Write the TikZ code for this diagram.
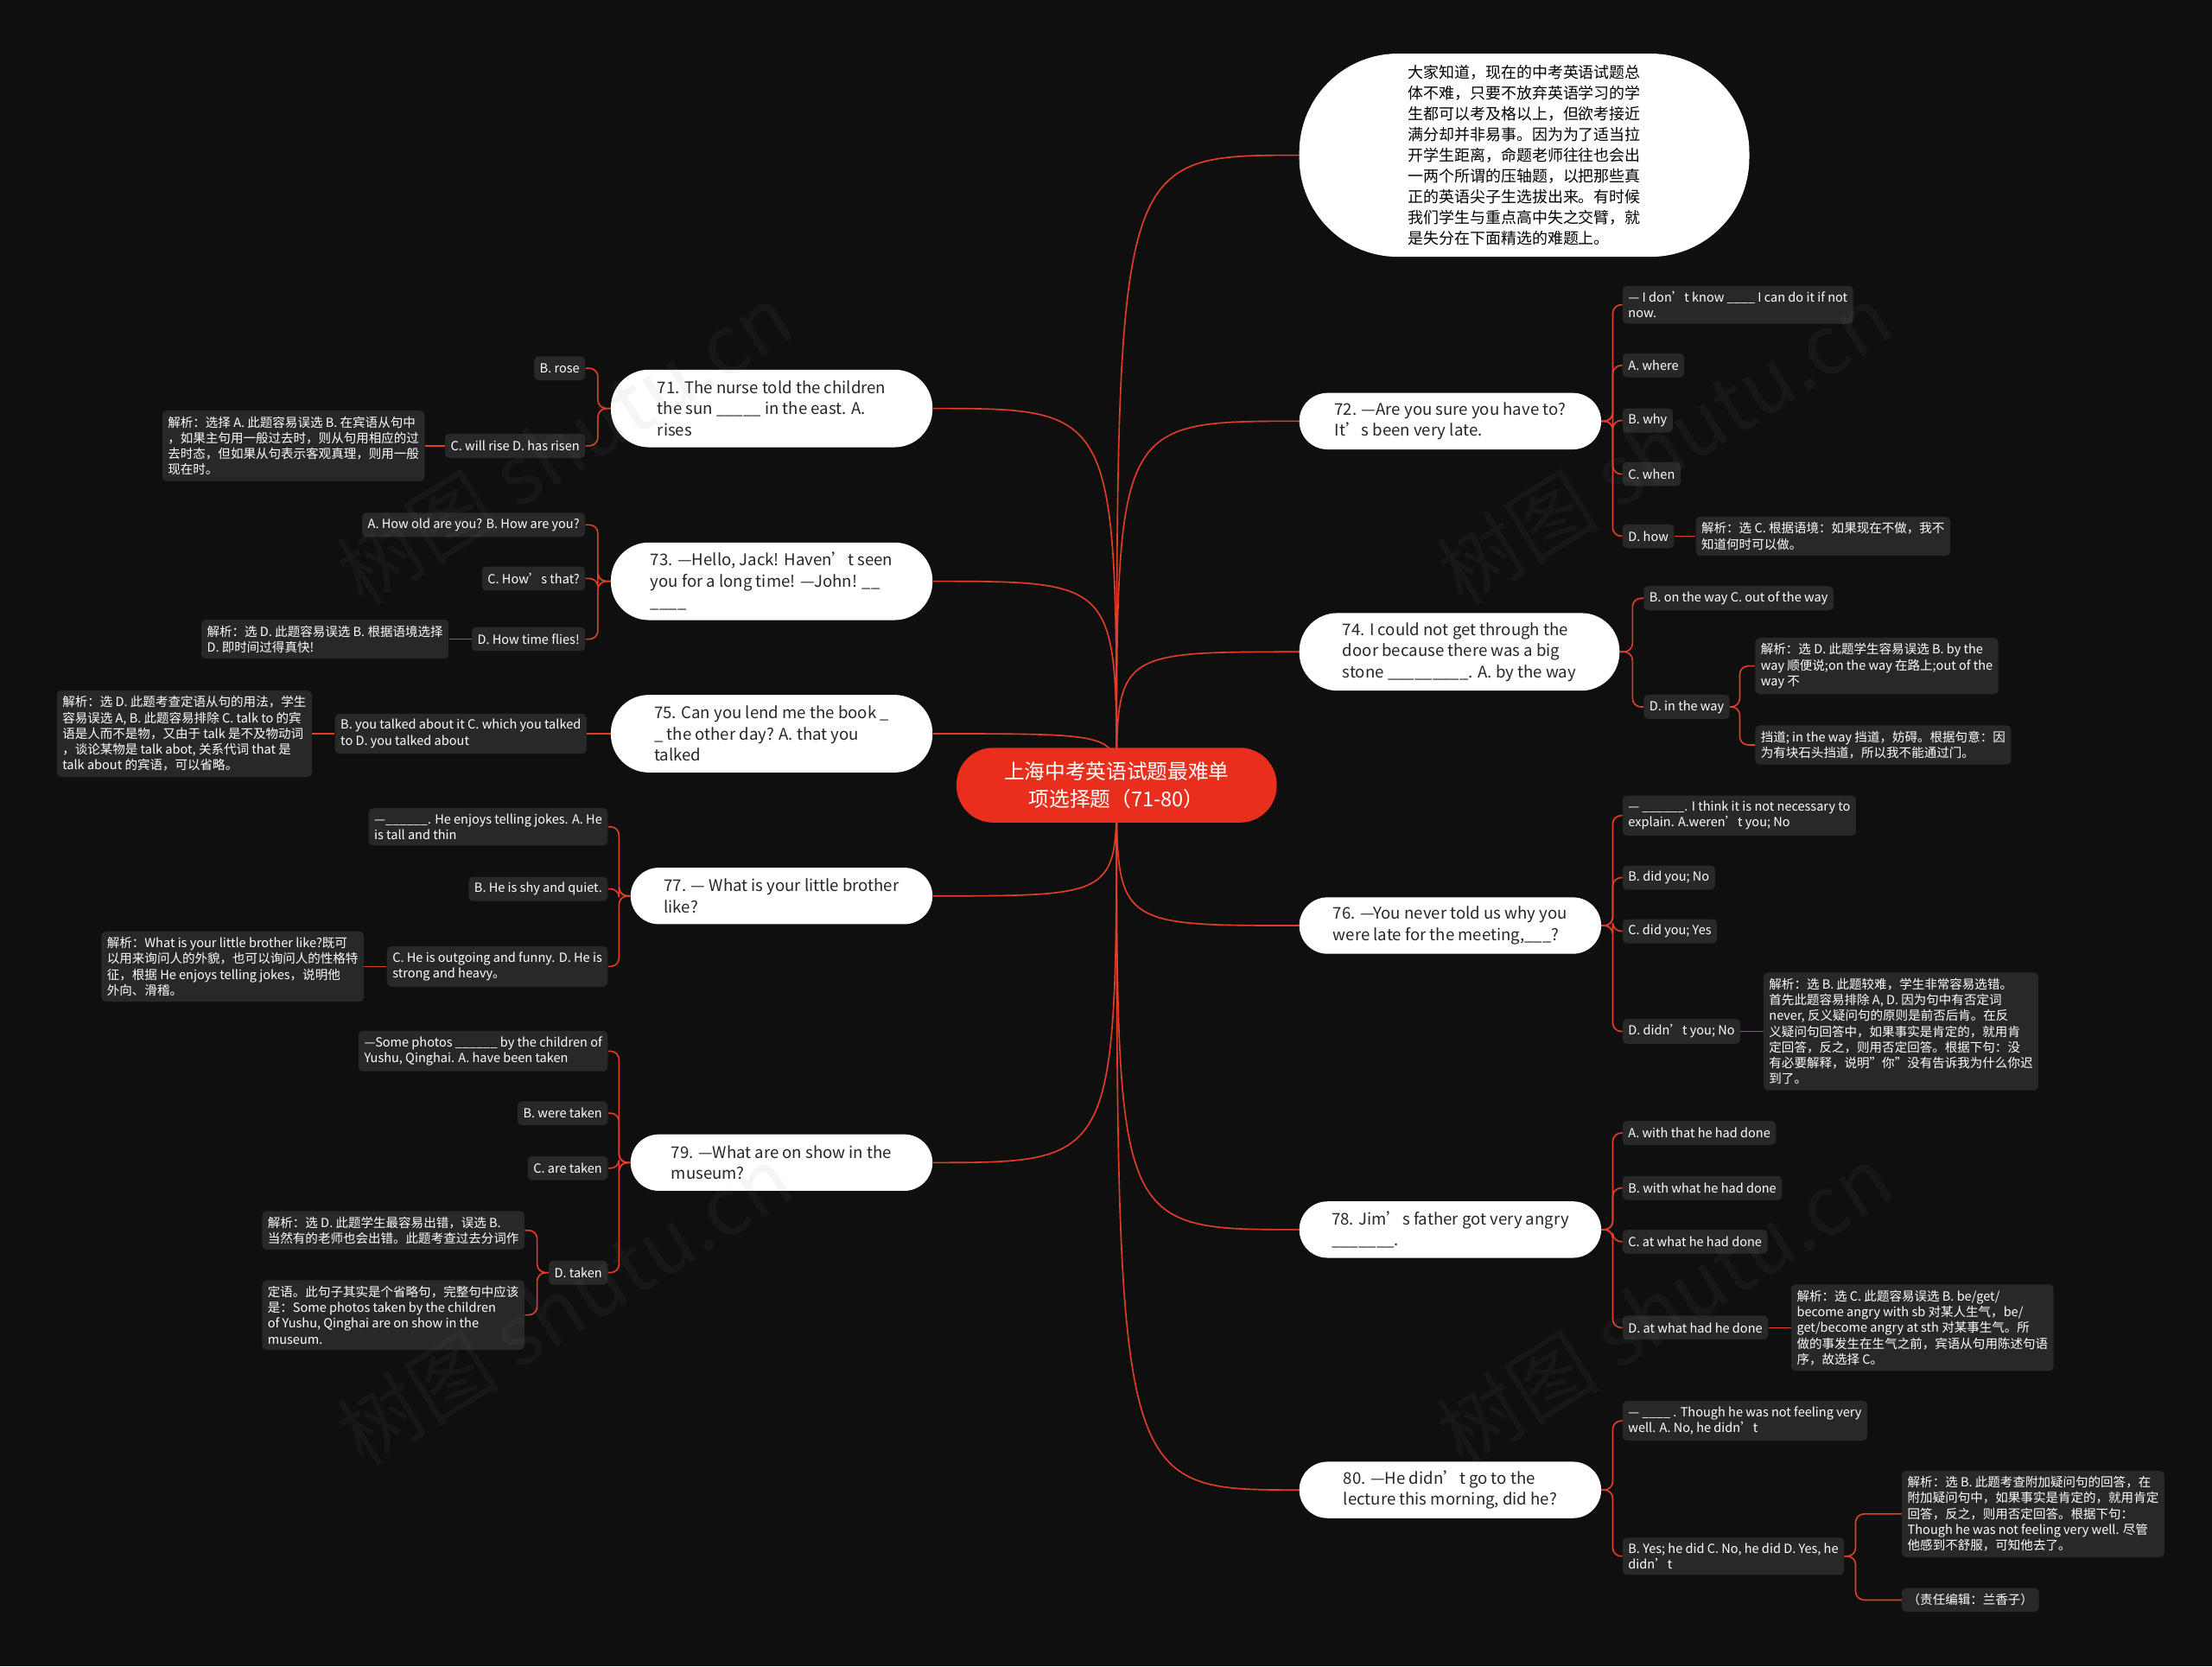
\documentclass[tikz,border=0pt]{standalone}
\usepackage{fontspec}
\setmainfont{Noto Sans CJK SC}
\usetikzlibrary{positioning}

\definecolor{bgc}{RGB}{15,15,15}
\definecolor{leafc}{RGB}{40,40,40}
\definecolor{rootc}{RGB}{232,46,28}
\definecolor{linec}{RGB}{226,62,42}

\pgfdeclarelayer{bg}
\pgfdeclarelayer{edges}
\pgfsetlayers{bg,edges,main}

\begin{document}
\begin{tikzpicture}[
    x=1pt, y=-1pt,
    root/.style={fill=rootc, text=white, rounded corners=26pt, minimum width=227pt, minimum height=53pt, align=center, font=\fontsize{14.5}{20}\selectfont},
    intro/.style={fill=white, text=black, rounded corners=70pt, minimum width=319pt, minimum height=144pt, align=left, font=\fontsize{11}{14.7}\selectfont},
    ques/.style={fill=white, text=black!85, rounded corners=20pt, minimum width=214pt, minimum height=40pt, align=left, font=\fontsize{11.4}{15}\selectfont},
    ques3/.style={rounded corners=27pt, minimum width=228pt, minimum height=55pt},
    leaf/.style={fill=leafc, text=white, rounded corners=3pt, minimum height=17pt, inner xsep=4pt, inner ysep=4pt, align=left, font=\fontsize{8.9}{11.2}\selectfont},
    link/.style={draw=linec, line width=1pt},
    branch/.style={link, rounded corners=6pt},
    wm/.style={text=gray, opacity=0.08, font=\fontsize{58}{58}\selectfont}
]

\useasboundingbox (0,0) rectangle (1568,1181);
\begin{pgfonlayer}{bg}
\fill[bgc] (0,0) rectangle (1568,1181);
\end{pgfonlayer}

% Root
\node[root] (root) at (791.5,556.5) {上海中考英语试题最难单\\项选择题（71-80）};

% Intro bubble
\node[intro] (intro) at (1080.5,110) {大家知道，现在的中考英语试题总\\体不难，只要不放弃英语学习的学\\生都可以考及格以上，但欲考接近\\满分却并非易事。因为为了适当拉\\开学生距离，命题老师往往也会出\\一两个所谓的压轴题，以把那些真\\正的英语尖子生选拔出来。有时候\\我们学生与重点高中失之交臂，就\\是失分在下面精选的难题上。};

% Questions, left side
\node[ques, ques3] (q71) at (547,289.5) {71. The nurse told the children\\the sun \_\_\_\_\_ in the east. A.\\rises};
\node[ques, ques3] (q73) at (547,412) {73. —Hello, Jack! Haven’t seen\\ you for a long time! —John! \_\_\\\_\_\_\_};
\node[ques, ques3] (q75) at (547,520) {75. Can you lend me the book \_\\\_ the other day? A. that you\\talked};
\node[ques] (q77) at (554,635) {77. — What is your little brother\\ like?};
\node[ques] (q79) at (554,824) {79. —What are on show in the\\museum?};

% Questions, right side
\node[ques] (q72) at (1028,298.5) {72. —Are you sure you have to?\\ It’s been very late.};
\node[ques, ques3, minimum width=227pt] (q74) at (1034.5,462) {74. I could not get through the\\door because there was a big\\stone \_\_\_\_\_\_\_\_\_. A. by the way};
\node[ques] (q76) at (1028,656) {76. —You never told us why you\\were late for the meeting,\_\_\_?};
\node[ques] (q78) at (1028,871.5) {78. Jim’s father got very angry\\\_\_\_\_\_\_\_.};
\node[ques] (q80) at (1028,1056) {80. —He didn’t go to the\\lecture this morning, did he?};

% 71
\node[leaf, anchor=east] (l71a) at (415,261) {B. rose};
\node[leaf, anchor=east] (l71b) at (415,316) {C. will rise D. has risen};
\node[leaf, left=14pt of l71b] (n71) {解析：选择 A. 此题容易误选 B. 在宾语从句中\\，如果主句用一般过去时，则从句用相应的过\\去时态，但如果从句表示客观真理，则用一般\\现在时。};

% 73
\node[leaf, anchor=east] (l73a) at (415,372) {A. How old are you? B. How are you?};
\node[leaf, anchor=east] (l73b) at (415,410) {C. How’s that?};
\node[leaf, anchor=east] (l73c) at (415,453) {D. How time flies!};
\node[leaf, left=16pt of l73c] (n73) {解析：选 D. 此题容易误选 B. 根据语境选择\\D. 即时间过得真快!};

% 75
\node[leaf, anchor=east] (l75a) at (416,520) {B. you talked about it C. which you talked\\ to D. you talked about};
\node[leaf, left=16pt of l75a] (n75) {解析：选 D. 此题考查定语从句的用法，学生\\容易误选 A, B. 此题容易排除 C. talk to 的宾\\语是人而不是物，又由于 talk 是不及物动词\\，谈论某物是 talk abot, 关系代词 that 是\\talk about 的宾语，可以省略。};

% 77
\node[leaf, anchor=east] (l77a) at (431,586) {—\_\_\_\_\_\_. He enjoys telling jokes. A. He\\is tall and thin};
\node[leaf, anchor=east] (l77b) at (431,630) {B. He is shy and quiet.};
\node[leaf, anchor=east] (l77c) at (431,685) {C. He is outgoing and funny. D. He is\\strong and heavy。};
\node[leaf, left=16pt of l77c] (n77) {解析：What is your little brother like?既可\\以用来询问人的外貌，也可以询问人的性格特\\征，根据 He enjoys telling jokes，说明他\\外向、滑稽。};

% 79
\node[leaf, anchor=east] (l79a) at (431,745) {—Some photos \_\_\_\_\_\_ by the children of\\Yushu, Qinghai. A. have been taken};
\node[leaf, anchor=east] (l79b) at (431,789) {B. were taken};
\node[leaf, anchor=east] (l79c) at (431,828) {C. are taken};
\node[leaf, anchor=east] (l79d) at (431,902) {D. taken};
\node[leaf, anchor=east] (n79a) at (372,872) {解析：选 D. 此题学生最容易出错，误选 B.\\当然有的老师也会出错。此题考查过去分词作};
\node[leaf, anchor=east] (n79b) at (372,932) {定语。此句子其实是个省略句，完整句中应该\\是：Some photos taken by the children\\of Yushu, Qinghai are on show in the\\museum.};

% 72
\node[leaf, anchor=west] (r72a) at (1150,216) {— I don’t know \_\_\_\_ I can do it if not\\now.};
\node[leaf, anchor=west] (r72b) at (1150,259) {A. where};
\node[leaf, anchor=west] (r72c) at (1150,298) {B. why};
\node[leaf, anchor=west] (r72d) at (1150,336) {C. when};
\node[leaf, anchor=west] (r72e) at (1150,380) {D. how};
\node[leaf, right=15pt of r72e] (n72) {解析：选 C. 根据语境：如果现在不做，我不\\知道何时可以做。};

% 74
\node[leaf, anchor=west] (r74a) at (1165,424) {B. on the way C. out of the way};
\node[leaf, anchor=west] (r74b) at (1165,501) {D. in the way};
\node[leaf, anchor=west] (n74a) at (1244,472) {解析：选 D. 此题学生容易误选 B. by the\\way 顺便说;on the way 在路上;out of the\\way 不};
\node[leaf, anchor=west] (n74b) at (1244,528) {挡道; in the way 挡道，妨碍。根据句意：因\\为有块石头挡道，所以我不能通过门。};

% 76
\node[leaf, anchor=west] (r76a) at (1150,578) {— \_\_\_\_\_\_. I think it is not necessary to\\explain. A.weren’t you; No};
\node[leaf, anchor=west] (r76b) at (1150,622) {B. did you; No};
\node[leaf, anchor=west] (r76c) at (1150,660) {C. did you; Yes};
\node[leaf, anchor=west] (r76d) at (1150,731) {D. didn’t you; No};
\node[leaf, right=16pt of r76d] (n76) {解析：选 B. 此题较难，学生非常容易选错。\\首先此题容易排除 A, D. 因为句中有否定词\\never, 反义疑问句的原则是前否后肯。在反\\义疑问句回答中，如果事实是肯定的，就用肯\\定回答，反之，则用否定回答。根据下句：没\\有必要解释，说明"你"没有告诉我为什么你迟\\到了。};

% 78
\node[leaf, anchor=west] (r78a) at (1150,803) {A. with that he had done};
\node[leaf, anchor=west] (r78b) at (1150,842) {B. with what he had done};
\node[leaf, anchor=west] (r78c) at (1150,880) {C. at what he had done};
\node[leaf, anchor=west] (r78d) at (1150,941) {D. at what had he done};
\node[leaf, right=16pt of r78d] (n78) {解析：选 C. 此题容易误选 B. be/get/\\become angry with sb 对某人生气，be/\\get/become angry at sth 对某事生气。所\\做的事发生在生气之前，宾语从句用陈述句语\\序，故选择 C。};

% 80
\node[leaf, anchor=west] (r80a) at (1150,1007) {— \_\_\_\_ . Though he was not feeling very\\well. A. No, he didn’t};
\node[leaf, anchor=west] (r80b) at (1150,1103) {B. Yes; he did C. No, he did D. Yes, he\\didn’t};
\node[leaf, anchor=west] (n80a) at (1348,1073) {解析：选 B. 此题考查附加疑问句的回答，在\\附加疑问句中，如果事实是肯定的，就用肯定\\回答，反之，则用否定回答。根据下句：\\Though he was not feeling very well. 尽管\\他感到不舒服，可知他去了。};
\node[leaf, anchor=west] (n80b) at (1348,1134) {（责任编辑：兰香子）};

\begin{pgfonlayer}{edges}
% Root to questions
\draw[link] (root.center) .. controls (root.center |- intro.west) .. (intro.west);
\foreach \q in {q71,q73,q75,q77,q79}
    \draw[link] (root.center) .. controls (root.center |- \q.east) .. (\q.east);
\foreach \q in {q72,q74,q76,q78,q80}
    \draw[link] (root.center) .. controls (root.center |- \q.west) .. (\q.west);

% Question to options
\foreach \l in {l71a,l71b}
    \draw[branch] (q71.west) -- ++(-9,0) |- (\l.east);
\foreach \l in {l73a,l73b,l73c}
    \draw[branch] (q73.west) -- ++(-9,0) |- (\l.east);
\draw[link] (q75.west) -- (l75a.east);
\foreach \l in {l77a,l77b,l77c}
    \draw[branch] (q77.west) -- ++(-8,0) |- (\l.east);
\foreach \l in {l79a,l79b,l79c,l79d}
    \draw[branch] (q79.west) -- ++(-8,0) |- (\l.east);
\foreach \l in {r72a,r72b,r72c,r72d,r72e}
    \draw[branch] (q72.east) -- ++(8,0) |- (\l.west);
\foreach \l in {r74a,r74b}
    \draw[branch] (q74.east) -- ++(9,0) |- (\l.west);
\foreach \l in {r76a,r76b,r76c,r76d}
    \draw[branch] (q76.east) -- ++(8,0) |- (\l.west);
\foreach \l in {r78a,r78b,r78c,r78d}
    \draw[branch] (q78.east) -- ++(8,0) |- (\l.west);
\foreach \l in {r80a,r80b}
    \draw[branch] (q80.east) -- ++(8,0) |- (\l.west);

% Options to notes
\draw[link] (l71b.west) -- (n71.east);
\draw[link] (l73c.west) -- (n73.east);
\draw[link] (l75a.west) -- (n75.east);
\draw[link] (l77c.west) -- (n77.east);
\foreach \n in {n79a,n79b}
    \draw[branch] (l79d.west) -- ++(-8,0) |- (\n.east);
\draw[link] (r72e.east) -- (n72.west);
\foreach \n in {n74a,n74b}
    \draw[branch] (r74b.east) -- ++(7,0) |- (\n.west);
\draw[link] (r76d.east) -- (n76.west);
\draw[link] (r78d.east) -- (n78.west);
\foreach \n in {n80a,n80b}
    \draw[branch] (r80b.east) -- ++(8,0) |- (\n.west);
\end{pgfonlayer}

% Watermark
\node[wm, rotate=32] (wm1) at (400,315) {树图 shutu.cn};
\node[wm, rotate=32] (wm2) at (1180,315) {树图 shutu.cn};
\node[wm, rotate=32] (wm3) at (400,925) {树图 shutu.cn};
\node[wm, rotate=32] (wm4) at (1180,925) {树图 shutu.cn};

\end{tikzpicture}
\end{document}
